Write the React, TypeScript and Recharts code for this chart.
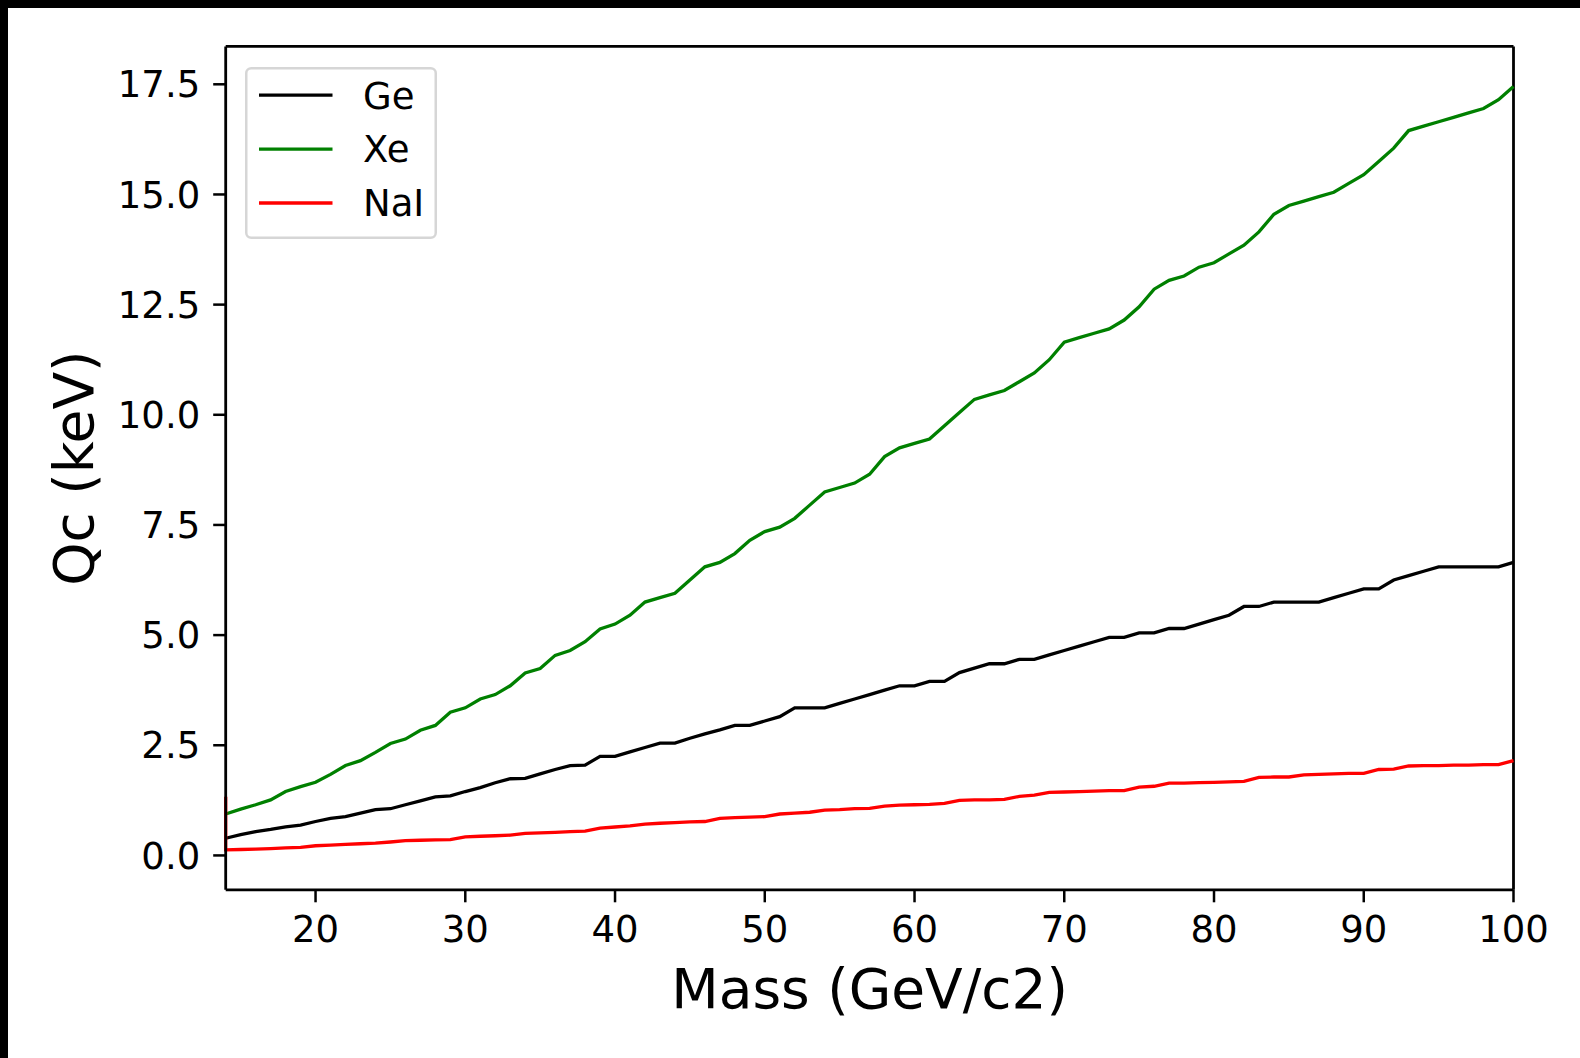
import { LineChart, Line, XAxis, YAxis, ReferenceLine, Legend } from 'recharts'

// WIMP mass in GeV/c2
const MASS = [
    14, 15, 16, 17, 18, 19, 20, 21, 22, 23, 24, 25, 26, 27, 28, 29, 30, 31, 32, 33,
    34, 35, 36, 37, 38, 39, 40, 41, 42, 43, 44, 45, 46, 47, 48, 49, 50, 51, 52, 53,
    54, 55, 56, 57, 58, 59, 60, 61, 62, 63, 64, 65, 66, 67, 68, 69, 70, 71, 72, 73,
    74, 75, 76, 77, 78, 79, 80, 81, 82, 83, 84, 85, 86, 87, 88, 89, 90, 91, 92, 93,
    94, 95, 96, 97, 98, 99, 100,
]

// Qc in keV, one value per mass
const GE = [
    0.39, 0.47, 0.54, 0.59, 0.65, 0.69, 0.77, 0.84, 0.88, 0.96, 1.04, 1.06, 1.15, 1.24, 1.33, 1.35, 1.45, 1.54, 1.65, 1.74,
    1.75, 1.85, 1.95, 2.04, 2.05, 2.25, 2.25, 2.35, 2.45, 2.55, 2.55, 2.66, 2.76, 2.85, 2.95, 2.95, 3.05, 3.15, 3.35, 3.35,
    3.35, 3.45, 3.55, 3.65, 3.75, 3.85, 3.85, 3.95, 3.95, 4.15, 4.25, 4.35, 4.35, 4.45, 4.45, 4.55, 4.65, 4.75, 4.85, 4.95,
    4.95, 5.05, 5.05, 5.15, 5.15, 5.25, 5.35, 5.45, 5.65, 5.65, 5.75, 5.75, 5.75, 5.75, 5.85, 5.95, 6.05, 6.05, 6.25, 6.35,
    6.45, 6.55, 6.55, 6.55, 6.55, 6.55, 6.65,
]

const XE = [
    0.94, 1.05, 1.15, 1.26, 1.45, 1.56, 1.66, 1.84, 2.04, 2.15, 2.34, 2.54, 2.64, 2.84, 2.95, 3.25, 3.35, 3.55, 3.65, 3.85,
    4.14, 4.24, 4.54, 4.65, 4.85, 5.14, 5.25, 5.45, 5.75, 5.85, 5.95, 6.25, 6.55, 6.65, 6.85, 7.15, 7.35, 7.45, 7.65, 7.95,
    8.25, 8.35, 8.45, 8.65, 9.05, 9.25, 9.35, 9.45, 9.75, 10.05, 10.35, 10.45, 10.55, 10.75, 10.95, 11.25, 11.65, 11.75, 11.85, 11.95,
    12.15, 12.45, 12.85, 13.05, 13.15, 13.35, 13.45, 13.65, 13.85, 14.15, 14.55, 14.75, 14.85, 14.95, 15.05, 15.25, 15.45, 15.75, 16.05, 16.45,
    16.55, 16.65, 16.75, 16.85, 16.95, 17.15, 17.45,
]

const NAI = [
    0.125, 0.135, 0.145, 0.155, 0.17, 0.185, 0.22, 0.235, 0.25, 0.265, 0.277, 0.305, 0.335, 0.345, 0.352, 0.36, 0.42, 0.435, 0.447, 0.46,
    0.5, 0.51, 0.525, 0.54, 0.55, 0.62, 0.645, 0.67, 0.71, 0.73, 0.745, 0.76, 0.77, 0.84, 0.86, 0.87, 0.88, 0.94, 0.96, 0.98,
    1.03, 1.04, 1.06, 1.07, 1.12, 1.14, 1.15, 1.16, 1.18, 1.25, 1.26, 1.26, 1.27, 1.34, 1.37, 1.43, 1.44, 1.45, 1.46, 1.47,
    1.47, 1.55, 1.57, 1.64, 1.64, 1.65, 1.66, 1.67, 1.68, 1.77, 1.78, 1.78, 1.83, 1.84, 1.85, 1.86, 1.86, 1.95, 1.96, 2.03,
    2.04, 2.04, 2.05, 2.05, 2.06, 2.06, 2.15,
]
// the NaI curve comes down the left edge before its first point
const NAI_START = 1.33

const SERIES_ORDER = ['Ge', 'Xe', 'NaI']
const X_TICKS = [20, 30, 40, 50, 60, 70, 80, 90, 100]
const Y_TICKS = [0, 2.5, 5, 7.5, 10, 12.5, 15, 17.5]
const X_DOMAIN: [number, number] = [14, 100]
const Y_DOMAIN: [number, number] = [-0.78, 18.36]

const FONT = '"DejaVu Sans", Verdana, sans-serif'
const W = 1580
const H = 1058
const PLOT = { left: 225.7, top: 46.4, right: 1513.5, bottom: 889.8 }
const LINE_W = 3.3

const toPoints = (vals: number[]) => MASS.map((m, i) => ({ m, q: vals[i] }))
const geData = toPoints(GE)
const xeData = toPoints(XE)
const naiData = [{ m: MASS[0], q: NAI_START }, ...toPoints(NAI)]

const tickStyle = { fill: '#000', fontSize: 37, fontFamily: FONT }
const axisStroke = { stroke: '#000', strokeWidth: 2.8 }
const tickStroke = { stroke: '#000', strokeWidth: 2.5 }

const YLabel = () => {
    const cx = 93
    const cy = (PLOT.top + PLOT.bottom) / 2
    return (
        <text x={cx} y={cy} transform={`rotate(-90, ${cx}, ${cy})`} textAnchor="middle"
            fontSize={55} fontFamily={FONT} fill="#000">
            Qc (keV)
        </text>
    )
}

const XLabel = () => (
    <text x={(PLOT.left + PLOT.right) / 2} y={1007.5} textAnchor="middle"
        fontSize={55} fontFamily={FONT} fill="#000">
        Mass (GeV/c2)
    </text>
)

const LegendBox = ({ payload }: any) => {
    const items = [...(payload ?? [])].sort(
        (a: any, b: any) => SERIES_ORDER.indexOf(a.value) - SERIES_ORDER.indexOf(b.value))
    return (
        <svg width={192} height={172} style={{ display: 'block' }}>
            <rect x={1.25} y={1.25} width={189.5} height={169.5} rx={5} ry={5}
                fill="#fff" fillOpacity={0.8} stroke="#d6d6d6" strokeWidth={2.5} />
            {items.map((p: any, i: number) => {
                const y = 28.2 + i * 53.9
                return (
                    <g key={p.value}>
                        <line x1={14} x2={87.5} y1={y} y2={y} stroke={p.color} strokeWidth={LINE_W} />
                        <text x={118} y={y + 13.3} fontSize={37} fontFamily={FONT} fill="#000">{p.value}</text>
                    </g>
                )
            })}
        </svg>
    )
}

export default function App() {
    return (
        <div style={{ position: 'absolute', left: 0, top: 0, width: W, height: H, background: '#000' }}>
            <div style={{ position: 'absolute', left: 8, top: 8, right: 0, bottom: 0, background: '#fff' }} />
            <div style={{ position: 'absolute', left: 0, top: 0 }}>
                <LineChart width={W} height={H}
                    margin={{ top: PLOT.top, right: W - PLOT.right, bottom: 0, left: 0 }}>
                    <XAxis dataKey="m" type="number" domain={X_DOMAIN} ticks={X_TICKS}
                        height={H - PLOT.bottom} tickSize={12.5} tickMargin={13}
                        tick={tickStyle} axisLine={axisStroke} tickLine={tickStroke}
                        label={<XLabel />} />
                    <YAxis type="number" domain={Y_DOMAIN} ticks={Y_TICKS}
                        width={PLOT.left} tickSize={12.5} tickMargin={13}
                        tickFormatter={(v: number) => v.toFixed(1)}
                        tick={tickStyle} axisLine={axisStroke} tickLine={tickStroke}
                        label={<YLabel />} />
                    {/* top and right spines */}
                    <ReferenceLine y={Y_DOMAIN[1]} stroke="#000" strokeWidth={2.8} />
                    <ReferenceLine x={X_DOMAIN[1]} stroke="#000" strokeWidth={2.8} />
                    <Line data={geData} dataKey="q" name="Ge" type="linear" stroke="#000000"
                        strokeWidth={LINE_W} dot={false} activeDot={false} isAnimationActive={false} />
                    <Line data={xeData} dataKey="q" name="Xe" type="linear" stroke="#008000"
                        strokeWidth={LINE_W} dot={false} activeDot={false} isAnimationActive={false} />
                    <Line data={naiData} dataKey="q" name="NaI" type="linear" stroke="#ff0000"
                        strokeWidth={LINE_W} dot={false} activeDot={false} isAnimationActive={false} />
                    <Legend layout="vertical" align="center" verticalAlign="middle"
                        content={<LegendBox />}
                        wrapperStyle={{ left: 245, top: 66.5, width: 192, height: 172 }} />
                </LineChart>
            </div>
        </div>
    )
}
